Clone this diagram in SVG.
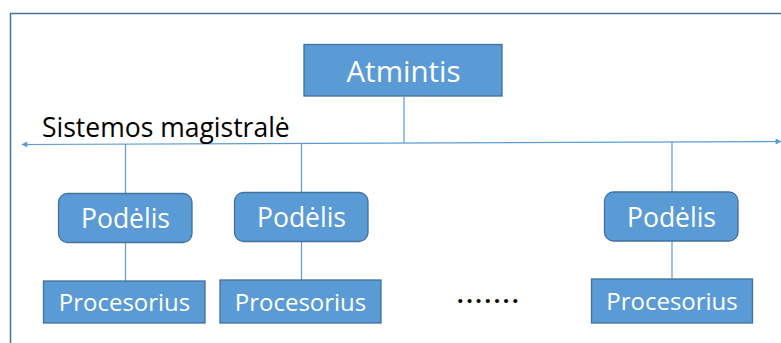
<svg xmlns="http://www.w3.org/2000/svg" width="781" height="343" viewBox="0 0 781 343">
<style>
.box{fill:#5B9BD5;stroke:#41719C;stroke-width:1.3}
.lbl{font-family:"Open Sans","Liberation Sans",sans-serif;fill:#fff;text-anchor:middle}
.wire{stroke:#5B9BD5;stroke-width:1.2;fill:none}
</style>
<defs>
<marker id="arr" viewBox="0 0 10 10" refX="9" refY="5" markerWidth="5.5" markerHeight="5" orient="auto-start-reverse">
<path d="M0,0 L10,5 L0,10 z" fill="#5B9BD5"/>
</marker>
</defs>
<rect width="781" height="343" fill="#fff"/>
<path d="M10.5,343 V13.5 H781" fill="none" stroke="#41719C" stroke-width="1.5"/>
<g id="connectors">
<path class="wire" d="M22,144.5 L781,141.5" stroke-width="1.5" marker-start="url(#arr)" marker-end="url(#arr)"/>
<line class="wire" x1="404" y1="97" x2="404" y2="143"/>
<line class="wire" x1="125.5" y1="144" x2="125.5" y2="193"/>
<line class="wire" x1="301.5" y1="144" x2="301.5" y2="192"/>
<line class="wire" x1="672" y1="142" x2="672" y2="192"/>
<line class="wire" x1="125.5" y1="242" x2="125.5" y2="281"/>
<line class="wire" x1="301.5" y1="241" x2="301.5" y2="280"/>
<line class="wire" x1="672" y1="241" x2="672" y2="279"/>
</g>
<g id="atmintis">
<rect class="box" x="304" y="44.5" width="198" height="51.5"/>
<text class="lbl" x="403.5" y="82" font-size="29.5">Atmintis</text>
</g>
<text id="bus-label" x="42" y="137" font-family="Open Sans, Liberation Sans, sans-serif" font-size="26.5" fill="#000">Sistemos magistralė</text>
<g id="podelis1">
<rect class="box" x="58.5" y="193.5" width="133.5" height="49" rx="9"/>
<text class="lbl" x="125.5" y="228" font-size="26.5">Podėlis</text>
</g>
<g id="podelis2">
<rect class="box" x="234.5" y="192.5" width="133.5" height="49" rx="9"/>
<text class="lbl" x="301.5" y="227" font-size="26.5">Podėlis</text>
</g>
<g id="podelis3">
<rect class="box" x="604.5" y="192" width="133.5" height="49" rx="9"/>
<text class="lbl" x="671.5" y="227" font-size="26.5">Podėlis</text>
</g>
<g id="procesorius1">
<rect class="box" x="43.5" y="281" width="161.5" height="42"/>
<text class="lbl" x="124.5" y="310.5" font-size="24">Procesorius</text>
</g>
<g id="procesorius2">
<rect class="box" x="220" y="280" width="161" height="43"/>
<text class="lbl" x="300.5" y="310.5" font-size="24">Procesorius</text>
</g>
<g id="procesorius3">
<rect class="box" x="591.5" y="279" width="161" height="44"/>
<text class="lbl" x="672" y="310" font-size="24">Procesorius</text>
</g>
<text id="dots" x="457" y="303" font-family="Open Sans, Liberation Sans, sans-serif" font-size="23" font-weight="bold" fill="#000" letter-spacing="2.6">.......</text>
</svg>
